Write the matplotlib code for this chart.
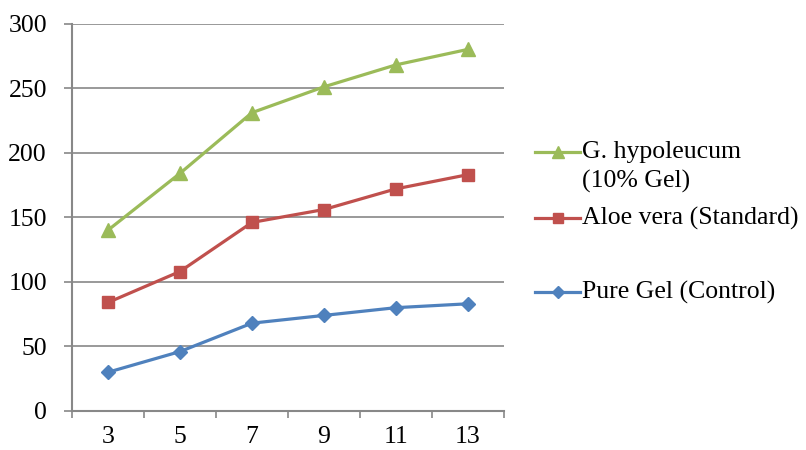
import matplotlib
matplotlib.use('Agg')
import matplotlib.pyplot as plt
from matplotlib.lines import Line2D

plt.rcParams['font.family'] = ['Liberation Serif', 'DejaVu Serif']

days = ['3', '5', '7', '9', '11', '13']
g_hypoleucum = [140, 184, 231, 251, 268, 280]
aloe_vera = [84, 108, 146, 156, 172, 183]
pure_gel = [30, 46, 68, 74, 80, 83]

labels = ['G. hypoleucum\n(10% Gel)', 'Aloe vera (Standard)', 'Pure Gel (Control)']
colors = ['#9BBB59', '#C0504D', '#4F81BD']
markers = ['^', 's', 'D']

fig = plt.figure(figsize=(8.06, 4.5), dpi=100)
ax = fig.add_axes([0.0893, 0.0867, 0.536, 0.861])

x = range(len(days))
series = [g_hypoleucum, aloe_vera, pure_gel]
sizes = [9.5, 9, 7.5]
for vals, c, m, ms in zip(series, colors, markers, sizes):
    ax.plot(x, vals, color=c, marker=m, markersize=ms, lw=2.3, zorder=3)

FS = 18.5
ax.set_xlim(-0.5, len(days) - 0.5)
ax.set_ylim(0, 300)
ax.set_yticks(range(0, 301, 50))
ax.set_xticks(list(x))
ax.set_xticklabels(days)
ax.set_xticks([i - 0.5 for i in range(len(days) + 1)], minor=True)
ax.tick_params(axis='x', which='major', length=0, labelsize=FS, pad=11)
ax.tick_params(axis='x', which='minor', length=5, color='#888888', width=1.2)
ax.tick_params(axis='y', length=6, color='#888888', width=1.2, labelsize=FS, pad=12)
ax.grid(axis='y', color='#888888', lw=1.2)
ax.set_axisbelow(True)
for s in ['top', 'right']:
    ax.spines[s].set_visible(False)
for s in ['left', 'bottom']:
    ax.spines[s].set_color('#888888')
    ax.spines[s].set_linewidth(1.5)

# legend drawn by hand so the rows sit like the original
W, H = 806, 450
rows = [152, 218, 292]
for lab, c, m, ms, yy in zip(labels, colors, markers, sizes, rows):
    fy = 1 - yy / H
    fig.add_artist(Line2D([535 / W, 580 / W], [fy, fy], color=c, lw=2.3))
    fig.add_artist(Line2D([557.5 / W], [fy], color=c, marker=m, markersize=ms - 1.5))
    fig.text(582 / W, fy, lab.split('\n')[0], fontsize=FS, va='center', ha='left')
    if '\n' in lab:
        fig.text(582 / W, 1 - 181 / H, lab.split('\n')[1], fontsize=FS, va='center', ha='left')

fig.savefig('out.png', dpi=100)
